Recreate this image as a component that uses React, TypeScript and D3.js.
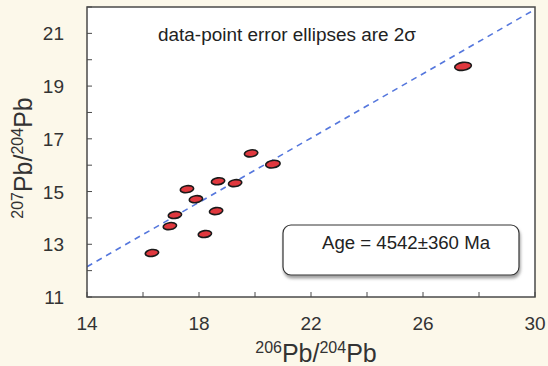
import React from "react";
import * as d3 from "d3";

// 206Pb/204Pb and 207Pb/204Pb of each analysis
const pb206 = [16.32, 16.96, 17.14, 17.57, 17.89, 18.21, 18.61, 18.68, 19.29, 19.86, 20.64, 27.43];
const pb207 = [12.67, 13.69, 14.11, 15.09, 14.71, 13.39, 14.26, 15.39, 15.32, 16.45, 16.04, 19.75];
// 2-sigma half axes of the error ellipses
const err206 = [0.24, 0.24, 0.24, 0.24, 0.24, 0.24, 0.24, 0.24, 0.24, 0.24, 0.26, 0.3];
const err207 = [0.13, 0.13, 0.13, 0.13, 0.13, 0.13, 0.13, 0.13, 0.13, 0.13, 0.14, 0.15];

// isochron fit
const slope = 0.61;
const intercept14 = 12.15; // 207/204 at 206/204 = 14

const xTicks = [14, 18, 22, 26, 30];
const xMinor = [16, 20, 24, 28];
const yTicks = [11, 13, 15, 17, 19, 21];
const yMinor = [12, 14, 16, 18, 20, 22];

const W = 548;
const H = 366;
const margin = { top: 7, right: 13, bottom: 69, left: 87 };

export default function App() {
  const x = d3.scaleLinear().domain([14, 30]).range([margin.left, W - margin.right]);
  const y = d3.scaleLinear().domain([11, 22]).range([H - margin.bottom, margin.top]);
  const [x0, x1] = x.range();
  const [y0, y1] = y.range();

  const line = d3.line<number>()
    .x(d => x(d))
    .y(d => y(intercept14 + slope * (d - 14)));

  const font = "'Liberation Sans', Arial, sans-serif";
  const axisCol = "#4a4a4a";
  const tickLen = 5;

  return (
    <svg width={W} height={H} style={{ position: "absolute", left: 0, top: 0, display: "block" }} fontFamily={font}>
      <defs>
        <clipPath id="plot">
          <rect x={x0} y={y1} width={x1 - x0} height={y0 - y1} />
        </clipPath>
        <filter id="shadow" x="-10%" y="-20%" width="120%" height="160%">
          <feDropShadow dx="1" dy="3" stdDeviation="1.5" floodColor="#777" floodOpacity="0.7" />
        </filter>
      </defs>
      <rect width={W} height={H} fill="#fcf8ea" />
      <rect x={x0} y={y1} width={x1 - x0} height={y0 - y1} fill="#ffffff" />

      {/* ticks */}
      {[...xTicks, ...xMinor].map(t => (
        <line key={"xt" + t} x1={x(t)} x2={x(t)} y1={y0} y2={y0 - tickLen} stroke={axisCol} strokeWidth={1} />
      ))}
      {[...yTicks, ...yMinor].map(t => (
        <line key={"yt" + t} x1={x0} x2={x0 + tickLen} y1={y(t)} y2={y(t)} stroke={axisCol} strokeWidth={1} />
      ))}

      {/* isochron */}
      <path
        d={line([14, 30]) || ""}
        clipPath="url(#plot)"
        fill="none"
        stroke="#5577dd"
        strokeWidth={1.6}
        strokeDasharray="6,5"
      />

      {/* error ellipses */}
      {pb206.map((v, i) => {
        const cx = x(v);
        const cy = y(pb207[i]);
        const rx = x(v + err206[i]) - cx;
        const ry = cy - y(pb207[i] + err207[i]);
        return (
          <ellipse
            key={i}
            cx={cx}
            cy={cy}
            rx={rx}
            ry={ry}
            transform={`rotate(-8 ${cx} ${cy})`}
            fill="#e0383e"
            stroke="#1a1a1a"
            strokeWidth={1.6}
          />
        );
      })}

      {/* frame */}
      <rect x={x0} y={y1} width={x1 - x0} height={y0 - y1} fill="none" stroke={axisCol} strokeWidth={1.5} />

      {/* tick labels */}
      {xTicks.map(t => (
        <text key={"xl" + t} x={x(t)} y={y0 + 33} textAnchor="middle" fontSize={19} fill="#333">{t}</text>
      ))}
      {yTicks.map(t => (
        <text key={"yl" + t} x={x0 - 23} y={y(t) + 7} textAnchor="end" fontSize={19} fill="#333">{t}</text>
      ))}

      {/* axis titles */}
      <text x={316} y={362} textAnchor="middle" fontSize={25} fill="#333">
        <tspan fontSize={16} dy={-9}>206</tspan>
        <tspan dy={9}>Pb/</tspan>
        <tspan fontSize={16} dy={-9}>204</tspan>
        <tspan dy={9}>Pb</tspan>
      </text>
      <text transform="translate(32,158) rotate(-90)" textAnchor="middle" fontSize={25} fill="#333">
        <tspan fontSize={16} dy={-9}>207</tspan>
        <tspan dy={9}>Pb/</tspan>
        <tspan fontSize={16} dy={-9}>204</tspan>
        <tspan dy={9}>Pb</tspan>
      </text>

      {/* annotation */}
      <text x={158} y={41} fontSize={17.5} fill="#222" textLength={258} lengthAdjust="spacingAndGlyphs">data-point error ellipses are 2σ</text>

      {/* age box */}
      <rect x={283} y={225} width={236} height={50} rx={8} fill="#ffffff" stroke="#333" strokeWidth={1.2} filter="url(#shadow)" />
      <text x={322} y={249} fontSize={17.5} fill="#222" textLength={168} lengthAdjust="spacingAndGlyphs">Age = 4542±360 Ma</text>
    </svg>
  );
}
